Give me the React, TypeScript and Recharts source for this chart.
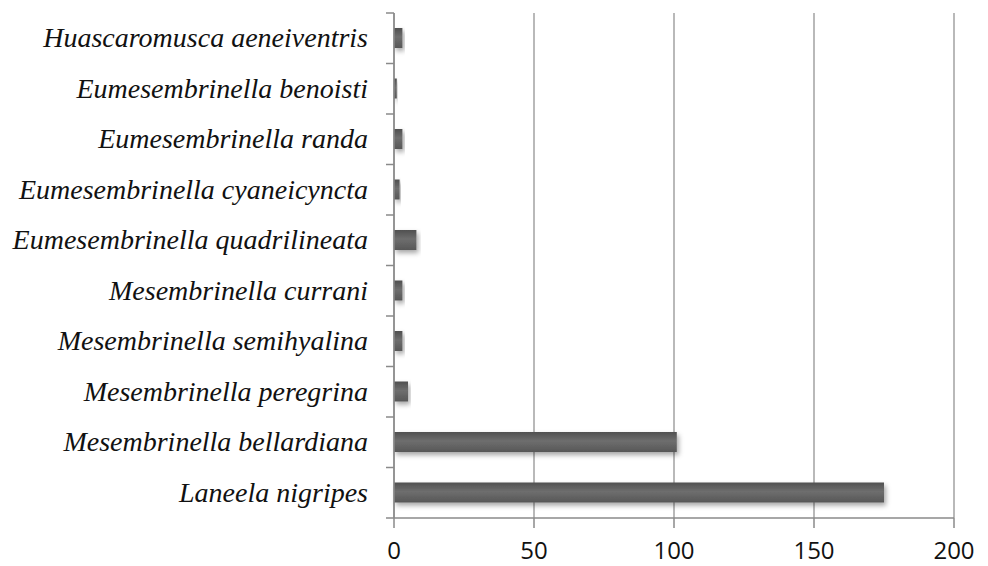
import React from "react";
import { BarChart, Bar, XAxis, YAxis, CartesianGrid } from "recharts";

// Species, listed top to bottom as drawn on the category axis
const species = [
  "Huascaromusca aeneiventris",
  "Eumesembrinella benoisti",
  "Eumesembrinella randa",
  "Eumesembrinella cyaneicyncta",
  "Eumesembrinella quadrilineata",
  "Mesembrinella currani",
  "Mesembrinella semihyalina",
  "Mesembrinella peregrina",
  "Mesembrinella bellardiana",
  "Laneela nigripes",
];

// Number of specimens per species
const counts = [3, 1, 3, 2, 8, 3, 3, 5, 101, 175];

const xTicks = [0, 50, 100, 150, 200];

const data = species.map((name, i) => ({ name, count: counts[i] }));

const WIDTH = 988;
const HEIGHT = 566;
const MARGIN = { top: 13, right: 34, bottom: 0, left: 0 };
const Y_AXIS_WIDTH = 394;
const X_AXIS_HEIGHT = 48;
const PLOT_HEIGHT = HEIGHT - MARGIN.top - MARGIN.bottom - X_AXIS_HEIGHT;
const BAND = PLOT_HEIGHT / species.length;

const AXIS_GREY = "#8a8a8a";
const SERIF = "Liberation Serif, Times New Roman, Times, Tinos, Noto Serif, DejaVu Serif, FreeSerif, serif";

// Category tick: italic species name plus short marks at the band boundaries
const SpeciesTick = (props: any) => {
  const { x, y, payload, index } = props;
  const axisX = x;
  const half = BAND / 2;
  return (
    <g>
      <line x1={axisX - 8} x2={axisX} y1={y - half} y2={y - half} stroke={AXIS_GREY} strokeWidth={1.5} />
      {index === species.length - 1 && (
        <line x1={axisX - 8} x2={axisX} y1={y + half} y2={y + half} stroke={AXIS_GREY} strokeWidth={1.5} />
      )}
      <text
        x={axisX - 26}
        y={y}
        dy="0.33em"
        textAnchor="end"
        fill="#111"
        style={{ fontFamily: SERIF, fontStyle: "italic", fontSize: 28 }}
      >
        {payload.value}
      </text>
    </g>
  );
};

export default function App() {
  return (
    <div style={{ position: "absolute", left: 0, top: 0, background: "#fff" }}>
      <BarChart width={WIDTH} height={HEIGHT} data={data} layout="vertical" margin={MARGIN}>
        <defs>
          <linearGradient id="barFill" x1="0" y1="0" x2="0" y2="1">
            <stop offset="0%" stopColor="#505050" />
            <stop offset="45%" stopColor="#6e6e6e" />
            <stop offset="100%" stopColor="#575757" />
          </linearGradient>
          <filter id="barShadow" x="-10%" y="-30%" width="130%" height="180%">
            <feDropShadow dx="2" dy="3" stdDeviation="2.5" floodColor="#000" floodOpacity="0.35" />
          </filter>
        </defs>
        <CartesianGrid horizontal={false} vertical={true} stroke={AXIS_GREY} strokeWidth={1.2} />
        <XAxis
          type="number"
          domain={[0, 200]}
          ticks={xTicks}
          height={X_AXIS_HEIGHT}
          axisLine={{ stroke: AXIS_GREY, strokeWidth: 1.5 }}
          tickLine={{ stroke: AXIS_GREY, strokeWidth: 1.5 }}
          tickSize={10}
          tickMargin={14}
          tick={{ fill: "#111", fontSize: 24, fontFamily: "'Open Sans', 'Liberation Sans', sans-serif" }}
        />
        <YAxis
          type="category"
          dataKey="name"
          width={Y_AXIS_WIDTH}
          axisLine={{ stroke: AXIS_GREY, strokeWidth: 1.5 }}
          tickLine={false}
          tickSize={0}
          tickMargin={0}
          interval={0}
          tick={<SpeciesTick />}
        />
        <Bar
          dataKey="count"
          barSize={20}
          fill="url(#barFill)"
          filter="url(#barShadow)"
          isAnimationActive={false}
        />
      </BarChart>
    </div>
  );
}
